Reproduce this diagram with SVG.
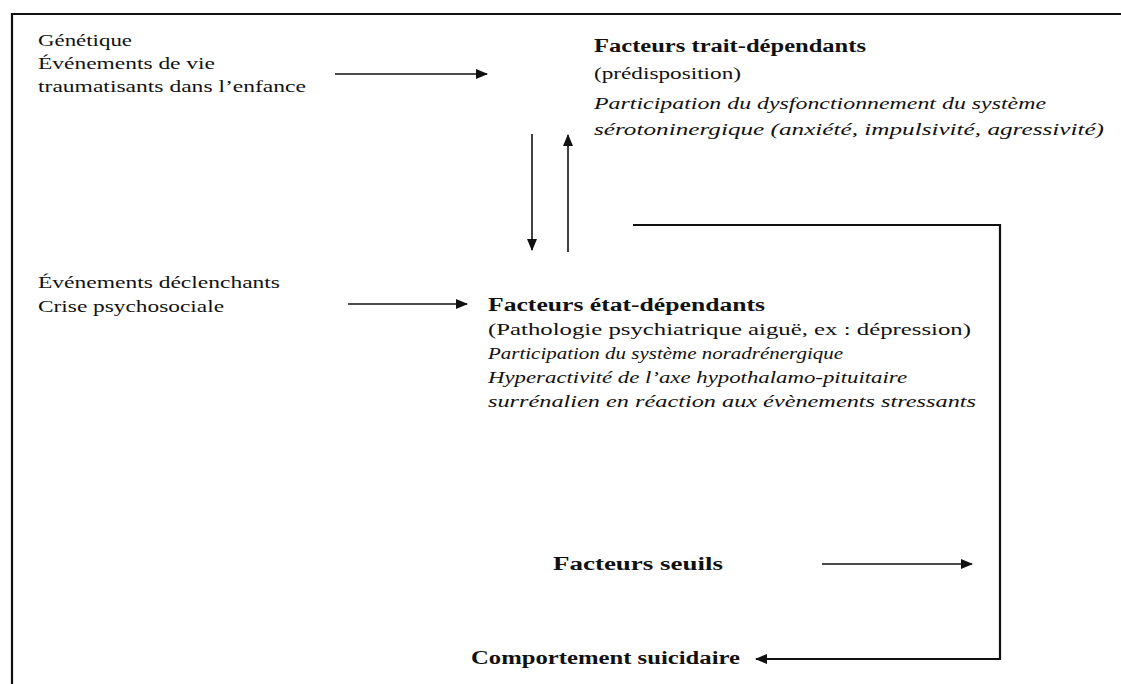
<svg xmlns="http://www.w3.org/2000/svg" width="1121" height="684" viewBox="0 0 1121 684">
<defs>
<style>
.t{font-family:"Liberation Serif","Times New Roman",serif;font-size:17px;fill:#111}
.b{font-weight:bold;font-size:18px}
.i{font-style:italic}
.ln{stroke:#111;stroke-width:1.6;fill:none}
.fr{stroke:#111;stroke-width:2.2;fill:none}
</style>
<marker id="ah" viewBox="0 0 12 10" refX="11" refY="5" markerWidth="12" markerHeight="10" markerUnits="userSpaceOnUse" orient="auto">
<path d="M0,0 L12,5 L0,10 Z" fill="#111"/>
</marker>
</defs>
<rect width="1121" height="684" fill="#fff"/>
<g id="frame">
<path class="fr" d="M12,684 V14 H1121"/>
</g>
<g id="causes-early">
<text class="t" x="38" y="46" textLength="94" lengthAdjust="spacingAndGlyphs">Génétique</text>
<text class="t" x="38" y="69" textLength="177" lengthAdjust="spacingAndGlyphs">Événements de vie</text>
<text class="t" x="38" y="92" textLength="268" lengthAdjust="spacingAndGlyphs">traumatisants dans l’enfance</text>
</g>
<g id="trait">
<text class="t b" x="594" y="52" textLength="272" lengthAdjust="spacingAndGlyphs">Facteurs trait-dépendants</text>
<text class="t" x="594" y="79" textLength="147" lengthAdjust="spacingAndGlyphs">(prédisposition)</text>
<text class="t i" x="594" y="109" textLength="452" lengthAdjust="spacingAndGlyphs">Participation du dysfonctionnement du système</text>
<text class="t i" x="594" y="135" textLength="510" lengthAdjust="spacingAndGlyphs">sérotoninergique (anxiété, impulsivité, agressivité)</text>
</g>
<g id="triggers">
<text class="t" x="38" y="288" textLength="242" lengthAdjust="spacingAndGlyphs">Événements déclenchants</text>
<text class="t" x="38" y="312" textLength="186" lengthAdjust="spacingAndGlyphs">Crise psychosociale</text>
</g>
<g id="state">
<text class="t b" x="488" y="311" textLength="277" lengthAdjust="spacingAndGlyphs">Facteurs état-dépendants</text>
<text class="t" x="488" y="335" textLength="483" lengthAdjust="spacingAndGlyphs">(Pathologie psychiatrique aiguë, ex : dépression)</text>
<text class="t i" x="488" y="359" textLength="355" lengthAdjust="spacingAndGlyphs">Participation du système noradrénergique</text>
<text class="t i" x="488" y="383" textLength="419" lengthAdjust="spacingAndGlyphs">Hyperactivité  de l’axe hypothalamo-pituitaire</text>
<text class="t i" x="488" y="407" textLength="488" lengthAdjust="spacingAndGlyphs">surrénalien en réaction aux évènements stressants</text>
</g>
<g id="threshold">
<text class="t b" x="553" y="570" textLength="170" lengthAdjust="spacingAndGlyphs">Facteurs seuils</text>
</g>
<g id="suicide">
<text class="t b" x="471" y="664" textLength="269" lengthAdjust="spacingAndGlyphs">Comportement suicidaire</text>
</g>
<g id="connectors">
<line class="ln" x1="335" y1="74" x2="487" y2="74" marker-end="url(#ah)"/>
<line class="ln" x1="348" y1="304" x2="467" y2="304" marker-end="url(#ah)"/>
<line class="ln" x1="532" y1="134" x2="532" y2="250" marker-end="url(#ah)"/>
<line class="ln" x1="568" y1="252" x2="568" y2="135" marker-end="url(#ah)"/>
<line class="ln" x1="822" y1="564" x2="972" y2="564" marker-end="url(#ah)"/>
<path class="fr" d="M633,225 H1000 V659 H756" marker-end="url(#ah)"/>
</g>
</svg>
